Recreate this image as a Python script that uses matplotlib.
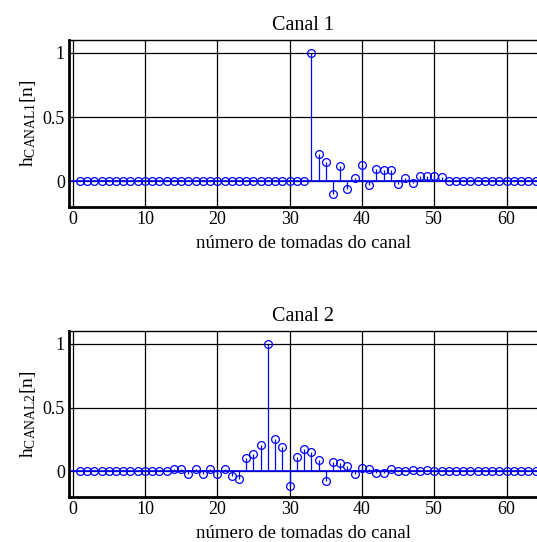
import numpy as np
import matplotlib
matplotlib.use("Agg")
import matplotlib.pyplot as plt

plt.rcParams['font.family'] = ['Liberation Serif', 'DejaVu Serif']
plt.rcParams['mathtext.fontset'] = 'custom'
plt.rcParams['mathtext.rm'] = 'Liberation Serif'
plt.rcParams['mathtext.it'] = 'Liberation Serif:italic'

n = np.arange(1, 65)

# Canal 1 non-zero taps (index: value)
h1_taps = {33: 1.0, 34: 0.212, 35: 0.147, 36: -0.096, 37: 0.121, 38: -0.059,
           39: 0.023, 40: 0.124, 41: -0.031, 42: 0.093, 43: 0.088, 44: 0.088,
           45: -0.021, 46: 0.023, 47: -0.010, 48: 0.044, 49: 0.044, 50: 0.039,
           51: 0.031}
# Canal 2 non-zero taps
h2_taps = {14: 0.021, 15: 0.021, 16: -0.021, 17: 0.018, 18: -0.021, 19: 0.021,
           20: -0.023, 21: 0.021, 22: -0.034, 23: -0.060, 24: 0.109, 25: 0.135,
           26: 0.205, 27: 1.0, 28: 0.256, 29: 0.194, 30: -0.111, 31: 0.117,
           32: 0.174, 33: 0.155, 34: 0.088, 35: -0.075, 36: 0.073, 37: 0.067,
           38: 0.044, 39: -0.021, 40: 0.026, 41: 0.018, 42: -0.013, 43: -0.013,
           44: 0.018, 45: 0.005, 46: 0.005, 47: 0.010, 48: 0.003, 49: 0.010}

h1 = np.array([h1_taps.get(k, 0.0) for k in n])
h2 = np.array([h2_taps.get(k, 0.0) for k in n])

titles = ['Canal 1', 'Canal 2']
ylabels = [r'h$_{\mathrm{CANAL1}}$[n]', r'h$_{\mathrm{CANAL2}}$[n]']
xlabel = 'número de tomadas do canal'
xticks = [0, 10, 20, 30, 40, 50, 60]
yticks = [0, 0.5, 1]
yticklabels = ['0', '0.5', '1']

fig = plt.figure(figsize=(5.37, 5.42), dpi=100)
W, H = 537, 542
rects = [(69, 40, 537, 207), (69, 331, 537, 497)]
blue = '#0000ff'

for i, (data, ttl, yl) in enumerate(zip([h1, h2], titles, ylabels)):
    x0, y0, x1, y1 = rects[i]
    ax = fig.add_axes([x0 / W, 1 - y1 / H, (x1 - x0) / W, (y1 - y0) / H])
    ax.set_xlim(-0.5, 64.2)
    ax.set_ylim(-0.2, 1.1)
    ax.grid(True, color='black', linewidth=0.9)
    ax.set_axisbelow(True)
    ax.axhline(0, color=blue, linewidth=1.2, zorder=2)
    ml, sl, bl = ax.stem(n, data, basefmt=' ')
    plt.setp(sl, color=blue, linewidth=0.9)
    plt.setp(ml, color=blue, markerfacecolor='none', markeredgecolor=blue,
             markersize=5.6, markeredgewidth=0.9)
    ax.set_xticks(xticks)
    ax.set_yticks(yticks)
    ax.set_yticklabels(yticklabels)
    ax.tick_params(length=0, labelsize=13, pad=3)
    for s in ['left', 'bottom']:
        ax.spines[s].set_linewidth(2.0)
    ax.spines['top'].set_linewidth(1.0)
    ax.spines['right'].set_visible(False)
    ax.set_title(ttl, fontsize=14.5, pad=7)
    ax.set_xlabel(xlabel, fontsize=13.5, labelpad=5)
    ax.set_ylabel(yl, fontsize=14, labelpad=3)

fig.savefig('out.png', dpi=100)
